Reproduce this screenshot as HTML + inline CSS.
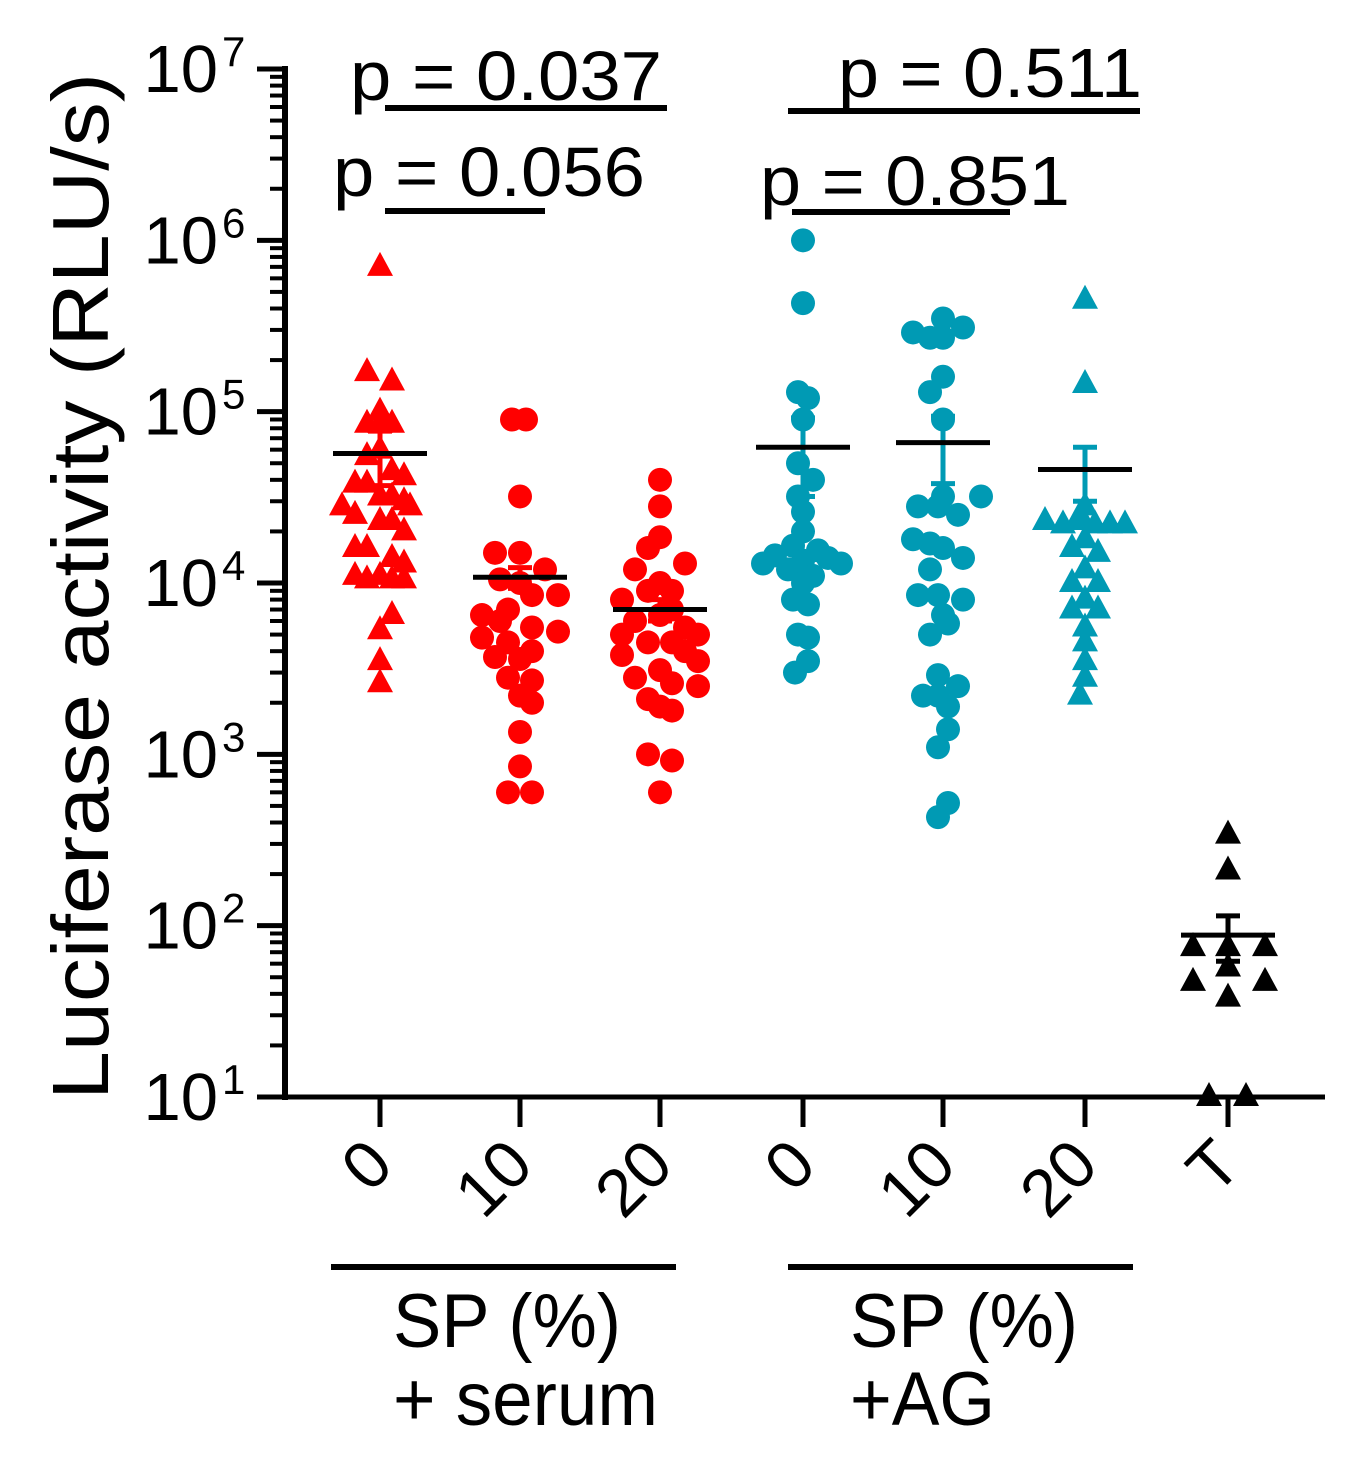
<!DOCTYPE html>
<html><head><meta charset="utf-8"><style>
html,body{margin:0;padding:0;background:#fff;}
svg{display:block;font-family:"Liberation Sans",Arial,sans-serif;}
</style></head><body>
<svg id="chart" width="1368" height="1462" viewBox="0 0 1368 1462" xmlns="http://www.w3.org/2000/svg">
<g id="axes"></g>
<g id="marks"></g>
<g id="labels">
  <text transform="translate(108,1100) rotate(-90)" font-size="80" textLength="1027" lengthAdjust="spacingAndGlyphs">Luciferase activity  (RLU/s)</text>
  <text x="350" y="100" font-size="70" textLength="312" lengthAdjust="spacingAndGlyphs">p = 0.037</text>
  <rect x="385" y="105" width="282" height="6" fill="#000"/>
  <text x="333" y="196" font-size="70" textLength="312" lengthAdjust="spacingAndGlyphs">p = 0.056</text>
  <rect x="385" y="208" width="160" height="6" fill="#000"/>
  <text x="838" y="97" font-size="70" textLength="304" lengthAdjust="spacingAndGlyphs">p = 0.511</text>
  <rect x="788" y="108" width="352" height="6" fill="#000"/>
  <text x="760" y="205" font-size="70" textLength="310" lengthAdjust="spacingAndGlyphs">p = 0.851</text>
  <rect x="792" y="209" width="218" height="6" fill="#000"/>
  <rect x="331" y="1264" width="345" height="6" fill="#000"/>
  <rect x="788" y="1264" width="345" height="6" fill="#000"/>
  <text x="393" y="1347" font-size="76" textLength="228" lengthAdjust="spacingAndGlyphs">SP (%)</text>
  <text x="393" y="1425" font-size="76" textLength="265" lengthAdjust="spacingAndGlyphs">+ serum</text>
  <text x="850" y="1347" font-size="76" textLength="228" lengthAdjust="spacingAndGlyphs">SP (%)</text>
  <text x="850" y="1425" font-size="76" textLength="145" lengthAdjust="spacingAndGlyphs">+AG</text>
</g>
</svg>
<script>
const categories = ['0','10','20','0','10','20','T'];
const groupColors = ['#ff0000','#ff0000','#ff0000','#009ab4','#009ab4','#009ab4','#000000'];
const groupShapes = ['tri','circ','circ','circ','circ','tri','tri'];
const yTickExponents = [1,2,3,4,5,6,7];
const groupMeans = [5.7e4,1.08e4,7e3,6.2e4,6.6e4,4.6e4,88];
const groupSem = [2e4,1.5e3,1e3,3e4,2.8e4,1.6e4,26];
const g1 = [7e5,1.7e5,1.5e5,1.0e5,8.5e4,8.5e4,8.5e4,5.5e4,6e4,4.5e4,4.2e4,3.8e4,3.8e4,3.2e4,3.2e4,3e4,2.8e4,2.8e4,2.5e4,2.3e4,2.3e4,2e4,1.6e4,1.6e4,1.4e4,1.3e4,1.1e4,1.05e4,1.1e4,1.05e4,1.05e4,6.5e3,5.3e3,3.5e3,2.6e3];
const g1j = [0,-13,12,0,-13,0,12,-13,0,12,24,-25,-13,0,12,24,-38,30,-25,0,12,24,-25,-13,12,24,-25,-13,0,12,24,12,0,0,0];
const g2 = [9e4,9e4,3.2e4,1.5e4,1.5e4,1.2e4,1.05e4,1.0e4,8.5e3,8.5e3,7e3,6.5e3,6e3,5.5e3,5.2e3,4.8e3,4.5e3,4e3,3.7e3,3.6e3,2.8e3,2.7e3,2.2e3,2.0e3,1.35e3,850,600,600];
const g2j = [-8,6,0,-25,0,25,-20,0,12,38,-12,-38,-20,12,38,-38,-12,12,-25,0,-12,12,0,12,0,0,-12,12];
const g3 = [4e4,2.8e4,1.85e4,1.6e4,1.3e4,1.2e4,1e4,9e3,9e3,8e3,7e3,6e3,6.5e3,5.5e3,5e3,5e3,4.5e3,4.5e3,4e3,3.8e3,3.5e3,3.1e3,2.8e3,2.6e3,2.5e3,2.1e3,1.9e3,1.8e3,1e3,920,600];
const g3j = [0,0,0,-12,25,-25,0,12,-12,-38,12,-25,0,25,38,-38,-12,12,25,-38,38,0,-25,12,38,-12,0,12,-12,12,0];
const g4 = [1e6,4.3e5,1.3e5,1.2e5,9e4,5e4,4e4,3.2e4,2.6e4,2e4,1.65e4,1.55e4,1.45e4,1.4e4,1.3e4,1.35e4,1.3e4,1.2e4,1.1e4,1e4,8e3,7.5e3,5e3,4.8e3,3.5e3,3e3];
const g4j = [0,0,-5,5,0,-5,10,-5,0,0,-10,15,-28,25,-40,0,38,-15,10,0,-10,5,-5,5,5,-8];
const g5 = [3.5e5,3.1e5,2.9e5,2.7e5,2.7e5,1.6e5,1.3e5,9e4,3.2e4,2.8e4,2.8e4,3.2e4,2.5e4,1.8e4,1.7e4,1.6e4,1.4e4,1.2e4,8.5e3,8.5e3,8e3,6.5e3,5.8e3,5e3,2.9e3,2.5e3,2.2e3,2.2e3,1.9e3,1.4e3,1.1e3,520,430];
const g5j = [0,20,-30,-13,0,0,-13,0,0,-25,-5,38,15,-30,-13,0,20,-13,-25,-5,20,0,5,-13,-5,15,-5,-20,5,5,-5,5,-5];
const g6 = [4.5e5,1.45e5,2.8e4,2.5e4,2.3e4,2.2e4,2.3e4,2.2e4,2.2e4,2.2e4,1.8e4,1.6e4,1.5e4,1.2e4,1e4,1e4,8e3,7e3,7e3,5.5e3,4.5e3,3.5e3,2.8e3,2.2e3];
const g6j = [0,0,0,-5,-40,-22,-5,10,25,40,0,-13,13,0,-13,13,0,-13,13,0,0,0,0,-5];
const g7 = [340,210,75,75,75,57,47,47,38,10,10];
const g7j = [0,0,-35,0,37,0,-35,37,0,-19,18];
const seriesValues = [g1,g2,g3,g4,g5,g6,g7];
const seriesJitter = [g1j,g2j,g3j,g4j,g5j,g6j,g7j];

const NS = 'http://www.w3.org/2000/svg';
const X0 = 285, X1 = 1325, YB = 1097, YT = 69;
const groupX = [380,520,660,803,943,1085,1228];
function xScale(i){ return groupX[i]; }
function yScale(v){ const l = Math.log10(v); return YB - (l - 1) / 6 * (YB - YT); }
function mk(tag, attrs, parent){ const e = document.createElementNS(NS, tag); for (const k in attrs) e.setAttribute(k, attrs[k]); parent.appendChild(e); return e; }

const axes = document.getElementById('axes');
let e;
e = mk('line', {x1:X0, y1:YT-3, x2:X0, y2:YB+3, stroke:'#000','stroke-width':6}, axes);


e = mk('line', {x1:X0-3, y1:YB, x2:X1, y2:YB, stroke:'#000','stroke-width':5}, axes);


yTickExponents.forEach(function(p){
  const y = yScale(Math.pow(10,p));
  const t = mk('line', {x1:X0-28, y1:y, x2:X0, y2:y, stroke:'#000','stroke-width':5}, axes);
  
  
  if (p < 7) {
    for (let m = 2; m <= 9; m++) {
      const ym = yScale(m * Math.pow(10,p));
      const mt = mk('line', {x1:X0-15, y1:ym, x2:X0, y2:ym, stroke:'#000','stroke-width':4}, axes);
      
      
    }
  }
  const tx = mk('text', {x:218, y:y+23, 'font-size':67, 'text-anchor':'end'}, axes);
  
  
  tx.textContent = '10';
  const sup = mk('text', {x:222, y:y-3, 'font-size':42}, axes);
  
  
  sup.textContent = String(p);
});
categories.forEach(function(c, i){
  const x = xScale(i);
  const t = mk('line', {x1:x, y1:YB, x2:x, y2:YB+30, stroke:'#000','stroke-width':5}, axes);
  
  
  const lx = x + 16, ly = 1168;
  const lab = mk('text', {transform:'translate('+lx+','+ly+') rotate(-45)', 'font-size':67, 'text-anchor':'end'}, axes);
  
  
  lab.textContent = c;
});

const marks = document.getElementById('marks');
seriesValues.forEach(function(vals, gi){
  const g = mk('g', {fill:groupColors[gi]}, marks);
  
  
  vals.forEach(function(v, k){
    const cx = xScale(gi) + seriesJitter[gi][k];
    const cy = yScale(v);
    let m;
    if (groupShapes[gi] === 'tri') {
      m = mk('polygon', {points:(cx)+','+(cy-15)+' '+(cx-13)+','+(cy+9)+' '+(cx+13)+','+(cy+9)}, g);
    } else {
      m = mk('circle', {cx:cx, cy:cy, r:12}, g);
    }
    
    
  });
  const mean = groupMeans[gi];
  const sem = groupSem[gi];
  const x = xScale(gi);
  const yt = yScale(mean+sem), yb = yScale(Math.max(mean-sem, 10.5)), ym = yScale(mean);
  const col = gi===6 ? '#000' : groupColors[gi];
  const eb = mk('line', {x1:x, y1:yt, x2:x, y2:yb, stroke:col,'stroke-width':5}, marks);
  
  
  const c1 = mk('line', {x1:x-12, y1:yt, x2:x+12, y2:yt, stroke:col,'stroke-width':5}, marks);
  
  
  const c2 = mk('line', {x1:x-12, y1:yb, x2:x+12, y2:yb, stroke:col,'stroke-width':5}, marks);
  
  
  const ml = mk('line', {x1:x-47, y1:ym, x2:x+47, y2:ym, stroke:'#000','stroke-width':5}, marks);
  
  
});
</script>
</body></html>
